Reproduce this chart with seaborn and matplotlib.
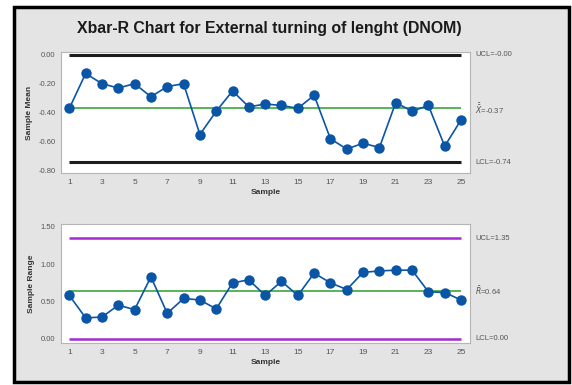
import matplotlib
matplotlib.use("Agg")
import matplotlib.pyplot as plt
import seaborn as sns
from matplotlib.patches import Rectangle

samples = list(range(1, 26))
sample_means = [-0.37, -0.13, -0.20, -0.23, -0.20, -0.29, -0.22, -0.20, -0.55, -0.39,
                -0.25, -0.36, -0.34, -0.35, -0.37, -0.28, -0.58, -0.65, -0.61, -0.64,
                -0.33, -0.39, -0.35, -0.63, -0.45]
sample_ranges = [0.58, 0.28, 0.29, 0.45, 0.39, 0.83, 0.34, 0.54, 0.52, 0.40,
                 0.75, 0.79, 0.58, 0.77, 0.58, 0.88, 0.75, 0.66, 0.89, 0.91,
                 0.92, 0.92, 0.63, 0.62, 0.52]
xbar_limits = {"ucl": -0.00, "center": -0.37, "lcl": -0.74}
r_limits = {"ucl": 1.35, "center": 0.64, "lcl": 0.00}
xticks = list(range(1, 26, 2))
mean_ticks = [0.00, -0.20, -0.40, -0.60, -0.80]
range_ticks = [0.00, 0.50, 1.00, 1.50]

sns.set_style("white")
plt.rcParams["font.family"] = ["Liberation Sans", "DejaVu Sans"]

fig = plt.figure(figsize=(5.72, 3.85), dpi=100)
fig.patch.set_facecolor("white")
# grey panel with the black frame, kept behind the axes
fig.patches.append(Rectangle((14 / 572, 3 / 385), 555 / 572, 375 / 385,
                             transform=fig.transFigure, facecolor="#e4e4e4",
                             edgecolor="black", linewidth=2.5, zorder=-5))

fig.text(269 / 572, 1 - 28 / 385, "Xbar-R Chart for External turning of lenght (DNOM)",
         ha="center", va="center", fontsize=11.4, fontweight="bold", color="#1a1a1a")

ax1 = fig.add_axes([61 / 572, 212 / 385, 409 / 572, 121 / 385])
ax2 = fig.add_axes([61 / 572, 42 / 385, 409 / 572, 119 / 385])

blue = "#0a55a5"


def style_axis(ax, yticks, ylim, ylabel):
    ax.set_facecolor("white")
    ax.set_xlim(0.49, 25.55)
    ax.set_ylim(*ylim)
    ax.set_xticks(xticks)
    ax.set_yticks(yticks)
    ax.set_yticklabels(["%.2f" % v for v in yticks])
    ax.tick_params(axis="both", labelsize=5.5, colors="#9a9a9a", labelcolor="#555555",
                   length=2.5, width=0.6, pad=1.5, direction="out")
    ax.tick_params(axis="x", labelsize=6, pad=2)
    for s in ax.spines.values():
        s.set_color("#b5b5b5")
        s.set_linewidth(0.8)
    ax.set_xlabel("Sample", fontsize=6, fontweight="bold", color="#333333", labelpad=2)
    ax.set_ylabel(ylabel, fontsize=6, fontweight="bold", color="#333333", labelpad=4)


# Xbar chart
ax1.hlines([xbar_limits["ucl"], xbar_limits["lcl"]], samples[0], samples[-1],
           color="#1c1c1c", linewidth=2.2, zorder=1)
ax1.hlines(xbar_limits["center"], samples[0], samples[-1], color="#2aa02a", linewidth=1.1, zorder=1)
sns.lineplot(x=samples, y=sample_means, ax=ax1, color=blue, linewidth=1.2, marker="o",
             markersize=7.5, markeredgewidth=0, zorder=3)
style_axis(ax1, mean_ticks, (-0.815, 0.018), "Sample Mean")

# R chart
ax2.hlines([r_limits["ucl"], r_limits["lcl"]], samples[0], samples[-1],
           color="#a42bd0", linewidth=1.8, zorder=1)
ax2.hlines(r_limits["center"], samples[0], samples[-1], color="#2aa02a", linewidth=1.1, zorder=1)
sns.lineplot(x=samples, y=sample_ranges, ax=ax2, color=blue, linewidth=1.2, marker="o",
             markersize=7.5, markeredgewidth=0, zorder=3)
style_axis(ax2, range_ticks, (-0.058, 1.54), "Sample Range")

lab = dict(fontsize=5.5, color="#555555", va="center", ha="left")
tr1 = ax1.get_yaxis_transform()
ax1.text(1.012, xbar_limits["ucl"], "UCL=-0.00", transform=tr1, **lab)
ax1.text(1.012, xbar_limits["center"], r"$\bar{\bar{X}}$=-0.37", transform=tr1, **lab)
ax1.text(1.012, xbar_limits["lcl"], "LCL=-0.74", transform=tr1, **lab)
tr2 = ax2.get_yaxis_transform()
ax2.text(1.012, r_limits["ucl"], "UCL=1.35", transform=tr2, **lab)
ax2.text(1.012, r_limits["center"], r"$\bar{R}$=0.64", transform=tr2, **lab)
ax2.text(1.012, r_limits["lcl"], "LCL=0.00", transform=tr2, **lab)

fig.savefig("out.png", dpi=100)
